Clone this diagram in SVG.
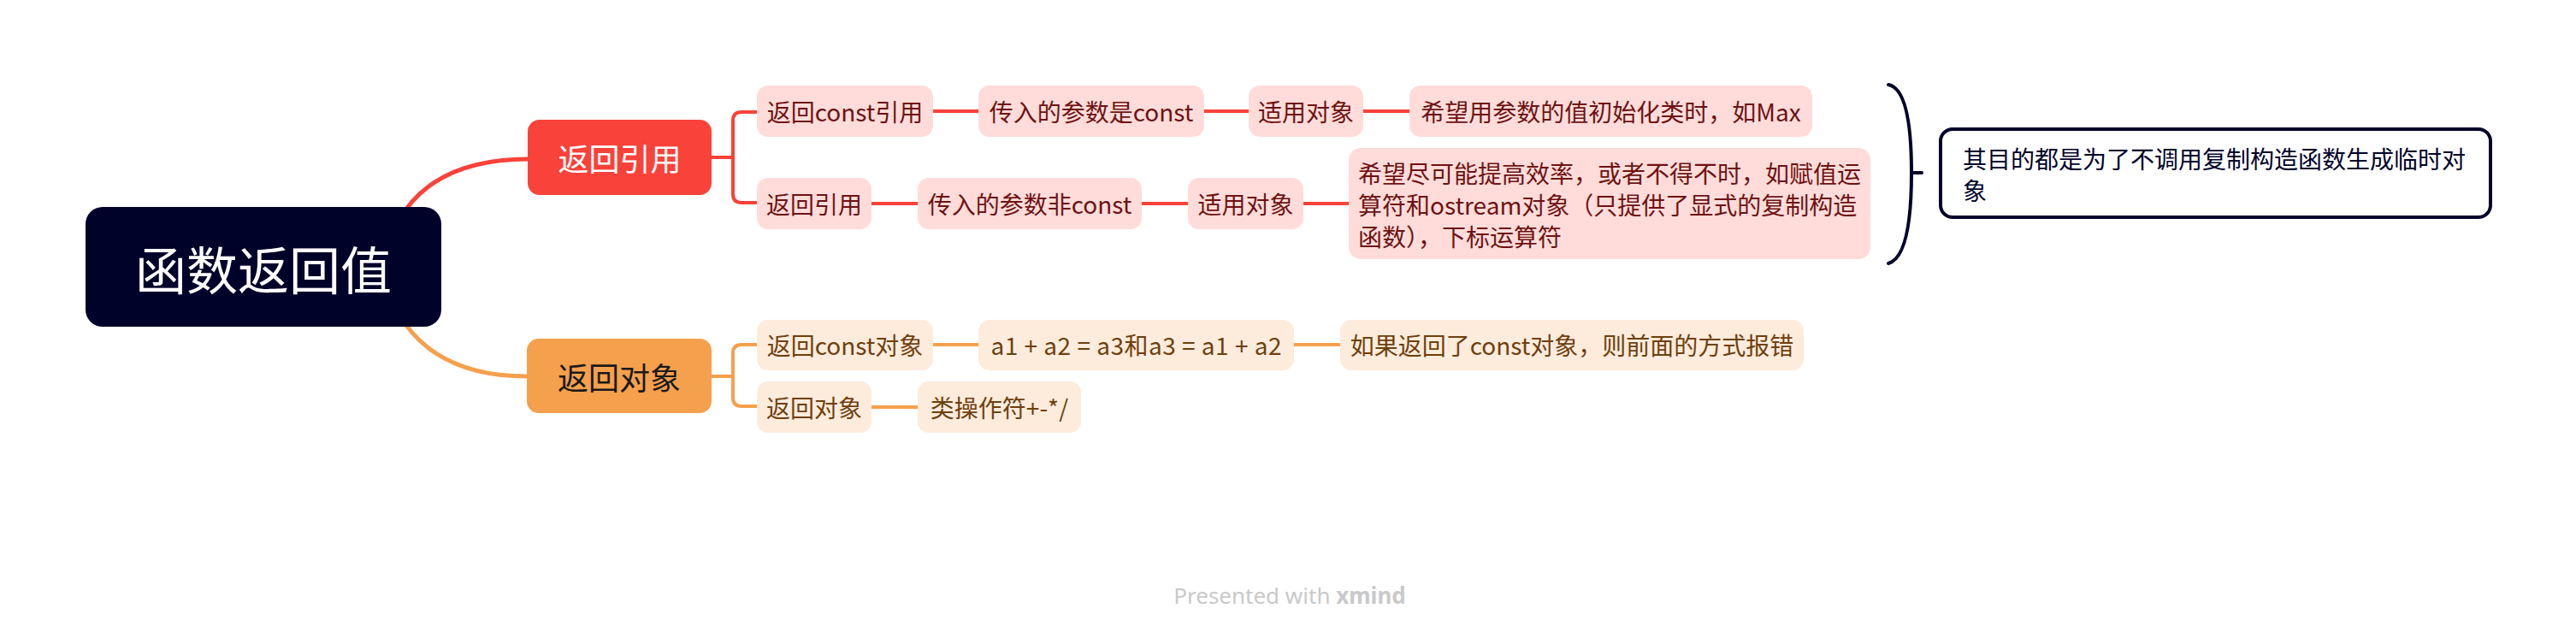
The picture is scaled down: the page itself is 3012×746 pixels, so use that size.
<svg xmlns="http://www.w3.org/2000/svg" width="3012" height="746" viewBox="0 0 3012 746">
<style>
text{font-family:"Noto Sans CJK SC","Noto Sans",sans-serif;}
.c{text-anchor:middle;dominant-baseline:central;}
.r{fill:#FFDCDA;}
.rt{fill:#6E1212;font-size:28px;}
.o{fill:#FDEBDC;}
.ot{fill:#6E3F0E;font-size:28px;}
.lr{fill:none;stroke:#F9423A;stroke-width:4;stroke-linecap:round;stroke-linejoin:round;}
.lo{fill:none;stroke:#F5A04D;stroke-width:4;stroke-linecap:round;stroke-linejoin:round;}
</style>
<rect width="3012" height="746" fill="#ffffff"/>
<g id="connectors">
<path d="M450,312 C460,230 520,186 617,186" fill="none" stroke="#F9423A" stroke-width="5"/>
<path d="M450,312 C460,394 520,440 616,440" fill="none" stroke="#F5A04D" stroke-width="5"/>
<path class="lr" d="M832,184 H857 M884,131 H867 Q857,131 857,141 V227 Q857,237 867,237 H884"/>
<path class="lr" d="M1091,130 H1144 M1408,130 H1460 M1594,130 H1648"/>
<path class="lr" d="M1019,238 H1073 M1335,238 H1389 M1524,238 H1577"/>
<path class="lo" d="M832,440 H857 M884,403 H867 Q857,403 857,413 V465 Q857,475 867,475 H884"/>
<path class="lo" d="M1091,403 H1144 M1513,403 H1567"/>
<path class="lo" d="M1019,476 H1073"/>
<path d="M2208,99 C2229,103 2235,150 2235,202 C2235,254 2229,302 2208,308 M2235,202 H2247" fill="none" stroke="#000229" stroke-width="4" stroke-linecap="round"/>
</g>
<g id="root">
<rect x="100" y="242" width="416" height="140" rx="20" fill="#000229"/>
<text class="c" x="308" y="312" font-size="60" fill="#ffffff">函数返回值</text>
</g>
<g id="n-ref">
<rect x="617" y="140" width="215" height="88" rx="14" fill="#F9423A"/>
<text class="c" x="724.5" y="184" font-size="36" fill="#ffffff">返回引用</text>
</g>
<g id="n-obj">
<rect x="616" y="396" width="216" height="87" rx="14" fill="#F5A04D"/>
<text class="c" x="724" y="440" font-size="36" fill="#1a1a1a">返回对象</text>
</g>
<g id="r1">
<rect class="r" x="885" y="100" width="206" height="60" rx="13"/>
<text class="c rt" x="988" y="130">返回const引用</text>
</g>
<g id="r1a">
<rect class="r" x="1144" y="100" width="264" height="60" rx="13"/>
<text class="c rt" x="1276" y="130">传入的参数是const</text>
</g>
<g id="r1b">
<rect class="r" x="1460" y="100" width="134" height="60" rx="13"/>
<text class="c rt" x="1527" y="130">适用对象</text>
</g>
<g id="r1c">
<rect class="r" x="1648" y="100" width="471" height="60" rx="13"/>
<text class="c rt" x="1883.5" y="130">希望用参数的值初始化类时，如Max</text>
</g>
<g id="r2">
<rect class="r" x="885" y="208" width="134" height="60" rx="13"/>
<text class="c rt" x="952" y="238">返回引用</text>
</g>
<g id="r2a">
<rect class="r" x="1073" y="208" width="262" height="60" rx="13"/>
<text class="c rt" x="1204" y="238">传入的参数非const</text>
</g>
<g id="r2b">
<rect class="r" x="1389" y="208" width="135" height="60" rx="13"/>
<text class="c rt" x="1456.5" y="238">适用对象</text>
</g>
<g id="r2c">
<rect class="r" x="1577" y="173" width="610" height="130" rx="14"/>
<text class="rt" x="1588" dominant-baseline="central"><tspan x="1588" y="202">希望尽可能提高效率，或者不得不时，如赋值运</tspan><tspan x="1588" y="239">算符和ostream对象（只提供了显式的复制构造</tspan><tspan x="1588" y="276">函数），下标运算符</tspan></text>
</g>
<g id="summary">
<rect x="2269" y="151" width="643" height="103" rx="14" fill="#ffffff" stroke="#000229" stroke-width="4"/>
<text x="2295" font-size="28" fill="#000229" dominant-baseline="central"><tspan x="2295" y="185">其目的都是为了不调用复制构造函数生成临时对</tspan><tspan x="2295" y="222">象</tspan></text>
</g>
<g id="o1">
<rect class="o" x="885" y="374" width="206" height="59" rx="13"/>
<text class="c ot" x="988" y="403">返回const对象</text>
</g>
<g id="o1a">
<rect class="o" x="1144" y="374" width="369" height="59" rx="13"/>
<text class="c ot" x="1328.5" y="403" textLength="340" lengthAdjust="spacing">a1 + a2 = a3和a3 = a1 + a2</text>
</g>
<g id="o1b">
<rect class="o" x="1567" y="374" width="542" height="59" rx="13"/>
<text class="c ot" x="1838" y="403">如果返回了const对象，则前面的方式报错</text>
</g>
<g id="o2">
<rect class="o" x="885" y="446" width="134" height="60" rx="13"/>
<text class="c ot" x="952" y="476">返回对象</text>
</g>
<g id="o2a">
<rect class="o" x="1073" y="446" width="191" height="60" rx="13"/>
<text class="c ot" x="1168.5" y="476">类操作符+-*/</text>
</g>
<g id="footer">
<text x="1508" y="706" text-anchor="middle" font-size="26" fill="#C9C9C9" style="font-family:'Noto Sans',sans-serif">Presented with <tspan font-weight="bold">xmind</tspan></text>
</g>
</svg>
